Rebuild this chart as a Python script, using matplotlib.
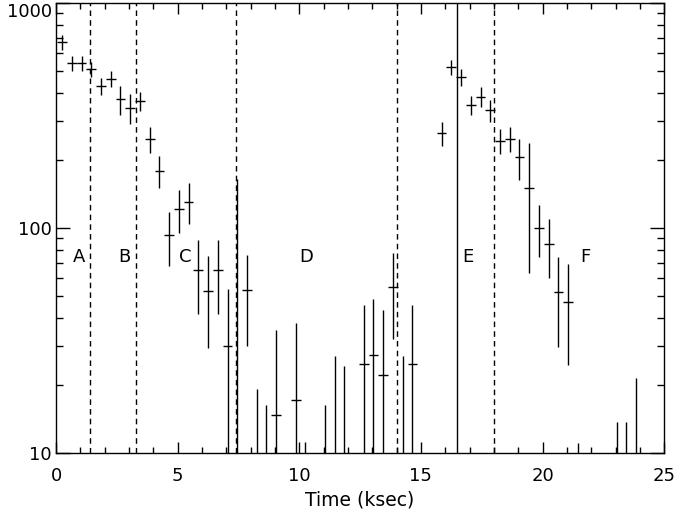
import matplotlib
matplotlib.use('Agg')
import matplotlib.pyplot as plt
import numpy as np

# bin centres (ksec), count rate and 1-sigma error
time = [0.25, 0.65, 1.05, 1.45, 1.85, 2.25, 2.65, 3.05, 3.45, 3.85,
        4.25, 4.65, 5.05, 5.45, 5.85, 6.25, 6.65, 7.05, 7.45, 7.85,
        8.25, 8.65, 9.05, 9.85, 10.25, 11.05, 11.45, 11.85, 12.65, 13.05,
        13.45, 13.85, 14.25, 14.65, 15.85, 16.25, 16.65, 17.05, 17.45, 17.85,
        18.25, 18.65, 19.05, 19.45, 19.85, 20.25, 20.65, 21.05, 21.45, 23.05,
        23.45, 23.85]
rate = [670, 540, 540, 507, 428, 462, 373, 343, 367, 248,
        180, 93, 121, 131, 65, 52.4, 65, 30, 5, 53,
        5, 5, 14.7, 17.2, 2, 5, 5, 5, 24.8, 27.2,
        22.2, 54.8, 5, 24.8, 264, 521, 470, 352, 384, 334,
        245, 250, 206, 151, 100, 85, 52, 47, 2, 3,
        3, 3]
rate_err = [50, 40, 40, 40, 37, 39, 55, 52, 37, 33,
            30, 25, 26, 27, 23.5, 23, 23.5, 23.4, 160, 23,
            14.2, 11.4, 20.5, 20.5, 9.2, 11.4, 22, 19.4, 20.9, 21,
            21, 22.8, 22, 20.9, 33, 40, 40, 35, 38, 37,
            32, 32, 43, 88, 26, 25, 22.5, 22.3, 9.1, 10.8,
            10.8, 18.6]
time_halfwidth = 0.2

# segment boundaries and labels
dashed_x = [1.4, 3.3, 7.4, 14.0, 18.0]
solid_x = [16.5]
seg_labels = ['A', 'B', 'C', 'D', 'E', 'F']
seg_label_x = [0.95, 2.8, 5.3, 10.3, 16.95, 21.75]
seg_label_y = 74

fig = plt.figure(figsize=(6.75, 5.18), dpi=100)
ax = fig.add_axes([0.083, 0.1255, 0.901, 0.8685])

ax.errorbar(time, rate, yerr=rate_err, xerr=time_halfwidth,
            fmt='none', ecolor='black', elinewidth=1.0, capsize=0)

for xv in dashed_x:
    ax.axvline(xv, color='black', lw=1.0, linestyle=(0, (4, 3)))
for xv in solid_x:
    ax.axvline(xv, color='black', lw=1.0)

for lab, xv in zip(seg_labels, seg_label_x):
    ax.text(xv, seg_label_y, lab, fontsize=13, ha='center', va='center')

ax.set_yscale('log')
ax.set_xlim(0, 25)
ax.set_ylim(10, 1000)
ax.set_yticks([10, 100, 1000])
ax.set_yticklabels(['10', '100', '1000'])
ax.set_xticks([0, 5, 10, 15, 20, 25])
ax.set_xticks(np.arange(0, 26, 1), minor=True)
ax.set_xlabel('Time (ksec)', fontsize=13.5, labelpad=4)

ax.tick_params(which='both', direction='in', top=True, right=True,
               labelsize=13, width=1.0)
ax.tick_params(which='major', length=8)
ax.tick_params(which='minor', length=4)
ax.tick_params(axis='y', which='major', length=10, pad=3)
ax.tick_params(axis='y', which='minor', length=5)
ax.tick_params(axis='x', pad=10)
for sp in ax.spines.values():
    sp.set_linewidth(1.0)

# keep the top label inside the canvas
ax.get_yticklabels()[-1].set_va('top')

fig.savefig('out.png', dpi=100)
